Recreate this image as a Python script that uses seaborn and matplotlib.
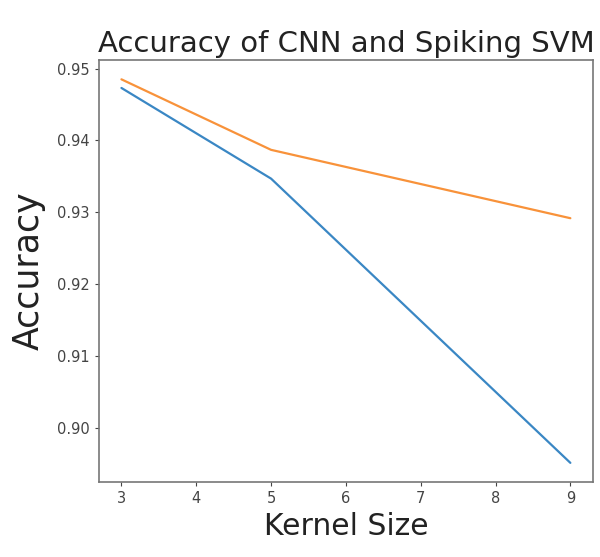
import matplotlib
matplotlib.use("Agg")
import matplotlib.pyplot as plt
import seaborn as sns
import pandas as pd

kernel_sizes = [3, 5, 9]
cnn_acc = [0.9473, 0.9347, 0.8952]
svm_acc = [0.9485, 0.9387, 0.9292]
series_names = ["CNN", "Spiking SVM"]
colors = ["#3a87c4", "#f8923a"]

df = pd.DataFrame({
    "Kernel Size": kernel_sizes * 2,
    "Accuracy": cnn_acc + svm_acc,
    "Model": [series_names[0]] * 3 + [series_names[1]] * 3,
})

sns.set_style("ticks")
plt.rcParams["font.family"] = ["DejaVu Sans"]

fig = plt.figure(figsize=(6, 5.57), dpi=100)
ax = fig.add_axes([0.165, 0.1346, 0.823, 0.7574])
sns.lineplot(data=df, x="Kernel Size", y="Accuracy", hue="Model",
             palette=colors, legend=False, ax=ax, linewidth=1.6)

ax.set_title("Accuracy of CNN and Spiking SVM", fontsize=21, color="#222222")
ax.set_xlabel("Kernel Size", fontsize=21.5, color="#222222")
ax.set_ylabel("Accuracy", fontsize=25, color="#222222", labelpad=8)
ax.set_yticks([0.90, 0.91, 0.92, 0.93, 0.94, 0.95])
ax.set_yticklabels(["0.90", "0.91", "0.92", "0.93", "0.94", "0.95"])
ax.set_xticks([3, 4, 5, 6, 7, 8, 9])
ax.tick_params(labelsize=10.5, colors="#444444", length=3)
for s in ax.spines.values():
    s.set_color("#777777")
    s.set_linewidth(1.2)
    s.set_visible(True)

fig.savefig("out.png", dpi=100)
